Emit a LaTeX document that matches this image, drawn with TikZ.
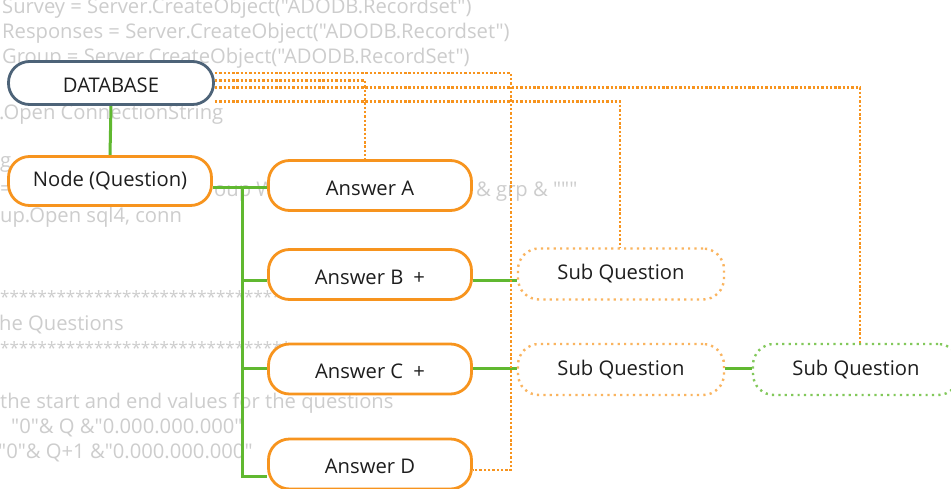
\documentclass[tikz,border=0pt]{standalone}
\usepackage{fontspec}
\setmainfont{Open Sans}
\setmonofont{Open Sans}
\usetikzlibrary{calc}
\definecolor{dbblue}{RGB}{77,99,120}
\definecolor{orng}{RGB}{247,148,30}
\definecolor{lorng}{RGB}{250,180,95}
\definecolor{grn}{RGB}{96,184,48}
\definecolor{lgrn}{RGB}{130,200,90}
\definecolor{codegray}{RGB}{205,205,205}
\definecolor{txt}{RGB}{30,30,30}
\newcommand\nodefnt{\fontsize{20.2}{22}\selectfont}
\newcommand\codefnt{\ttfamily\fontsize{20.2}{22}\selectfont}
\newcommand\starfnt{\ttfamily\fontsize{17}{20}\selectfont}
\pgfdeclarelayer{codelayer}
\pgfdeclarelayer{linelayer}
\pgfsetlayers{codelayer,linelayer,main}
\tikzset{
  box/.style={draw, rounded corners=21pt, minimum width=203pt, minimum height=50pt,
    fill=white, line width=2.8pt, text=txt, font=\nodefnt, inner sep=0pt},
  lowtext/.style={text height=19pt, text depth=0pt},
  dbbox/.style={box, lowtext, draw=dbblue, minimum width=205pt, minimum height=43pt},
  ansbox/.style={box, lowtext, draw=orng},
  subbox/.style={box, draw=lorng, line width=2.4pt, dash pattern=on 2.2pt off 4.2pt,
    minimum width=206pt, minimum height=51pt},
  subgbox/.style={subbox, draw=lgrn},
  gline/.style={draw=grn, line width=3pt},
  oline/.style={draw=orng, line width=2.7pt, dash pattern=on 2.4pt off 1.9pt},
  code/.style={text=codegray, font=\codefnt, anchor=base west, inner sep=0pt},
  stars/.style={code, font=\starfnt}
}
\begin{document}
\begin{tikzpicture}[x=1pt,y=-1pt]
\clip (0,0) rectangle (951,488);

% nodes
\node[dbbox]  (db) at (111,83)    {DATABASE};
\node[box,draw=orng,minimum height=49pt] (q)  at (110,181) {Node (Question)};
\node[ansbox] (aA) at (370,185.5) {Answer A};
\node[ansbox] (aB) at (370,274.5) {Answer B\enspace+};
\node[ansbox] (aC) at (370,369)   {Answer C\enspace+};
\node[ansbox] (aD) at (370,464)   {Answer D};
\node[subbox]  (s1) at (621,274)   {Sub Question};
\node[subbox]  (s2) at (621,369.5) {Sub Question};
\node[subgbox] (s3) at (856,369.5) {Sub Question};

% background code text
\begin{pgfonlayer}{codelayer}
\fill[white] (0,0) rectangle (951,488);
\node[code] (k1) at (2,13)   {Survey = Server.CreateObject("ADODB.Recordset")};
\node[code] (k2) at (2,38)   {Responses = Server.CreateObject("ADODB.Recordset")};
\node[code] (k3) at (2,63)   {Group = Server.CreateObject("ADODB.RecordSet")};
\node[code] (k4) at (-1,119) {.Open ConnectionString};
\node[code] (k5) at (0,167)  {g};
\node[code] (k6) at (0,195)  {=};
\node[code] (k7) at (214,196) {oup W};
\node[code] (k8) at (476,196) {\& grp \& """};
\node[code] (k9) at (0,222)  {up.Open sql4, conn};
\node[stars] (k10) at (0,303) {*******************************};
\node[code] (k11) at (-1,330) {he Questions};
\node[stars] (k12) at (0,354) {*******************************};
\node[code] (k13) at (0,408) {the start and end values for the questions};
\node[code] (k14) at (11,433) {"0"\& Q \&"0.000.000.000"};
\node[code] (k15) at (-2,458) {"0"\& Q+1 \&"0.000.000.000"};
\end{pgfonlayer}

% connectors
\begin{pgfonlayer}{linelayer}
\coordinate (t0) at (242,187);
\coordinate (jB) at ($(aB.west)+(0,5.5)$);
\coordinate (jC) at ($(aC.west)+(0,-1)$);
\coordinate (jD) at ($(aD.west)+(0,12)$);
\draw[gline] (db.south) -- (q.north);
\draw[gline] ($(q.east)+(0,6)$) -- ($(aA.west)+(0,1.5)$);
\draw[gline] (t0) |- (jD);
\draw[gline] (jB -| t0) -- (jB);
\draw[gline] (jC -| t0) -- (jC);
\draw[gline] ($(aB.east)+(0,5.5)$) -- ($(s1.west)+(0,6)$);
\draw[gline] ($(aC.east)+(0,-1)$) -- ($(s2.west)+(0,-1.5)$);
\draw[gline] ($(s2.east)+(0,-1.5)$) -- ($(s3.west)+(0,-1.5)$);

\coordinate (c1) at (511,73);
\coordinate (c2) at (365,80.5);
\coordinate (c3) at (860,87.5);
\coordinate (c4) at (620,101.5);
\draw[oline] (db.east |- c1) -- (c1) |- ($(aD.east)+(0,6)$);
\draw[oline] (db.east |- c2) -- (c2) -- (c2 |- aA.north);
\draw[oline] (db.east |- c3) -- (c3) -- (c3 |- s3.north);
\draw[oline] (db.east |- c4) -- (c4) -- (c4 |- s1.north);
\end{pgfonlayer}
\end{tikzpicture}
\end{document}
